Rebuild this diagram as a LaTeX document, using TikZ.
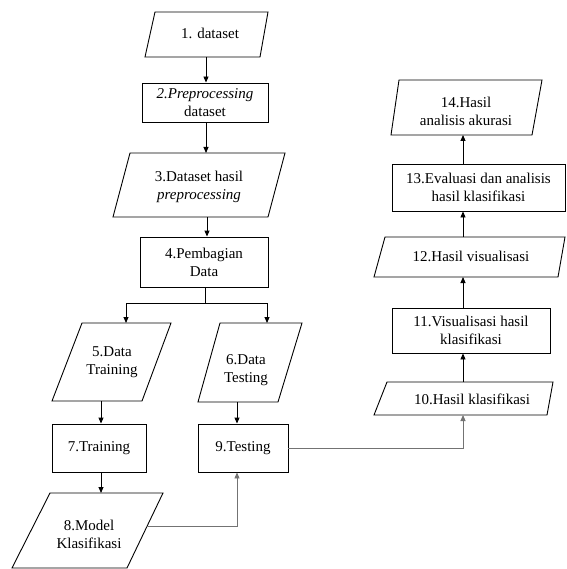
\documentclass[tikz,border=0pt]{standalone}
\usepackage{fontspec}
\setmainfont{LiberationSerif}[Extension=.ttf, UprightFont=*-Regular, ItalicFont=*-Italic, BoldFont=*-Bold]
\usetikzlibrary{arrows.meta,calc}
\tikzset{
  lbl/.style={font=\fontsize{15}{18}\selectfont, align=center, inner sep=0pt},
  boxnode/.style={lbl, draw, line width=0.9pt, rectangle},
  shapeline/.style={draw, line width=0.9pt, line join=miter},
  arr/.style={line width=0.9pt, -{Triangle[length=6pt,width=5pt]}},
  arrg/.style={arr, draw=black!55},
  plain/.style={line width=0.9pt}
}
\begin{document}
\begin{tikzpicture}[x=1pt,y=-1pt]
\useasboundingbox (0,0) rectangle (566,569);

% parallelograms (data)
\draw[shapeline] (155,12) -- (268,12) -- (260,57) -- (145,57) -- cycle;
\node[lbl] (p1) at (210,33) {1. dataset};

\draw[shapeline] (130,153) -- (285,153) -- (268,217) -- (113,217) -- cycle;
\node[lbl] (p3) at (199,187) {3.Dataset hasil\\\textit{preprocessing}};

\draw[shapeline] (82,323) -- (171,323) -- (142,401) -- (52,401) -- cycle;
\node[lbl] (p5) at (112,362) {5.Data\\Training};

\draw[shapeline] (220,323) -- (302,323) -- (278,402) -- (198,402) -- cycle;
\node[lbl] (p6) at (246,370) {6.Data\\Testing};

\draw[shapeline] (50,493) -- (163,493) -- (127,568) -- (12,568) -- cycle;
\node[lbl] (p8) at (89,534) {8.Model\\Klasifikasi};

\draw[shapeline] (387,382) -- (553,382) -- (547,415) -- (374,415) -- cycle;
\node[lbl] (p10) at (472,399) {10.Hasil klasifikasi};

\draw[shapeline] (385,237) -- (565,237) -- (558,277) -- (374,277) -- cycle;
\node[lbl] (p12) at (471,256) {12.Hasil visualisasi};

\draw[shapeline] (399,80) -- (542,80) -- (532,135) -- (391,135) -- cycle;
\node[lbl] (p14) at (466,111) {14.Hasil\\analisis akurasi};

% process boxes
\node[boxnode, minimum width=126pt, minimum height=39pt] (r2) at (205,102.5) {\textit{2.Preprocessing}\\dataset};
\node[boxnode, minimum width=128pt, minimum height=50pt] (r4) at (204,262) {4.Pembagian\\Data};
\node[boxnode, minimum width=94pt, minimum height=48pt] (r7) at (99,448) {7.Training};
\node[boxnode, minimum width=90pt, minimum height=48pt] (r9) at (243,448) {9.Testing};
\node[boxnode, minimum width=158pt, minimum height=45pt] (r11) at (471,330.5) {11.Visualisasi hasil\\klasifikasi};
\node[boxnode, minimum width=173pt, minimum height=47pt] (r13) at (478.5,187.5) {13.Evaluasi dan analisis\\hasil klasifikasi};

% connector end points on the parallelogram edges
\coordinate (p1s) at (206,57);
\coordinate (p3n) at (206,153);
\coordinate (p3s) at (207,217);
\coordinate (p5n) at (126,323);
\coordinate (p5s) at (101,401);
\coordinate (p6n) at (267,323);
\coordinate (p6s) at (237,402);
\coordinate (p8n) at (101,493);
\coordinate (p8e) at (146,526);
\coordinate (p10s) at (463,415);
\coordinate (p10n) at (463,382);
\coordinate (p12s) at (463,277);
\coordinate (p12n) at (463,237);
\coordinate (p14s) at (463,135);
\coordinate (sp) at (205,303);

% connectors
\draw[arr] (p1s) -- (p1s |- r2.north);
\draw[arr] (r2.south -| p1s) -- (p3n);
\draw[arr] (p3s) -- (p3s |- r4.north);
\draw[plain] (r4.south -| sp) -- (sp);
\draw[arr] (sp) -| (p5n);
\draw[arr] (sp) -| (p6n);
\draw[arr] (p5s) -- (p5s |- r7.north);
\draw[arr] (p6s) -- (p6s |- r9.north);
\draw[arr] (r7.south -| p8n) -- (p8n);
\draw[arrg] (p8e) -| (p6s |- r9.south);
\draw[arrg] (r9.east) -| (p10s);
\draw[arr] (p10n) -- (p10n |- r11.south);
\draw[arr] (r11.north -| p10n) -- (p12s);
\draw[arr] (p12n) -- (p12n |- r13.south);
\draw[arr] (r13.north -| p12n) -- (p14s);
\end{tikzpicture}
\end{document}
